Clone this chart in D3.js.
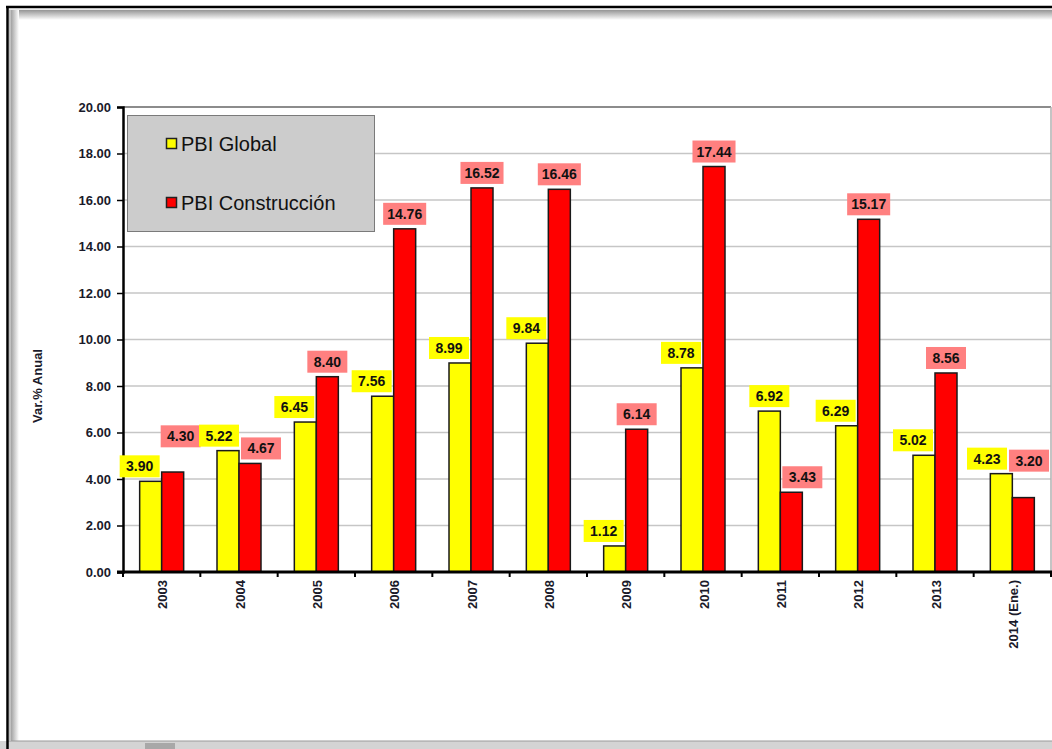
<!DOCTYPE html>
<html>
<head>
<meta charset="utf-8">
<script src="https://cdn.jsdelivr.net/npm/d3@7/dist/d3.min.js"></script>
<style>
  html, body { margin: 0; padding: 0; background: #fff; }
  svg { display: block; font-family: "Liberation Sans", Arial, sans-serif; }
</style>
</head>
<body>
<svg id="chart" width="1052" height="749"></svg>
<script>
// datos
const years = ["2003", "2004", "2005", "2006", "2007", "2008", "2009", "2010", "2011", "2012", "2013", "2014 (Ene.)"];
const pbiGlobal = [3.90, 5.22, 6.45, 7.56, 8.99, 9.84, 1.12, 8.78, 6.92, 6.29, 5.02, 4.23];
const pbiConstruccion = [4.30, 4.67, 8.40, 14.76, 16.52, 16.46, 6.14, 17.44, 3.43, 15.17, 8.56, 3.20];
const yTicks = [0, 2, 4, 6, 8, 10, 12, 14, 16, 18, 20];
const seriesNames = ["PBI Global", "PBI Construcción"];

const svg = d3.select("#chart");
const W = 1052, H = 749;

// ---------- marco de ventana ----------
const defs = svg.append("defs");
const gTop = defs.append("linearGradient").attr("id", "gTop")
  .attr("x1", "0").attr("y1", "0").attr("x2", "0").attr("y2", "1");
gTop.append("stop").attr("offset", "0%").attr("stop-color", "#8a8a8a");
gTop.append("stop").attr("offset", "100%").attr("stop-color", "#ffffff");
const gLeft = defs.append("linearGradient").attr("id", "gLeft")
  .attr("x1", "0").attr("y1", "0").attr("x2", "1").attr("y2", "0");
gLeft.append("stop").attr("offset", "0%").attr("stop-color", "#8a8a8a");
gLeft.append("stop").attr("offset", "100%").attr("stop-color", "#ffffff");

svg.append("rect").attr("x", 10).attr("y", 9).attr("width", W).attr("height", 11).attr("fill", "url(#gTop)");
svg.append("rect").attr("x", 9).attr("y", 9).attr("width", 10).attr("height", H).attr("fill", "url(#gLeft)");
svg.append("rect").attr("x", 0).attr("y", 741).attr("width", W).attr("height", 8).attr("fill", "#d4d4d4");
svg.append("line").attr("x1", 8).attr("x2", W).attr("y1", 741).attr("y2", 741).attr("stroke", "#9a9a9a");
svg.append("rect").attr("x", 145).attr("y", 743).attr("width", 30).attr("height", 6).attr("fill", "#a8a8a8");
svg.append("line").attr("x1", 6).attr("x2", W).attr("y1", 7).attr("y2", 7).attr("stroke", "#000").attr("stroke-width", 2.5);
svg.append("line").attr("x1", 7.5).attr("x2", 7.5).attr("y1", 6).attr("y2", H).attr("stroke", "#000").attr("stroke-width", 2.5);
svg.append("line").attr("x1", 9).attr("x2", W).attr("y1", 9.5).attr("y2", 9.5).attr("stroke", "#e8e8e8");
svg.append("line").attr("x1", 10).attr("x2", 10).attr("y1", 9).attr("y2", 741).attr("stroke", "#e8e8e8");

// ---------- escalas ----------
const plotL = 123, plotR = 1051, plotT = 107, plotB = 572;
const x = d3.scaleBand().domain(years).range([plotL, plotR]);
const y = d3.scaleLinear().domain([0, 20]).range([plotB, plotT]);
const barW = 22;

// grilla
svg.append("g").selectAll("line").data(yTicks.filter(d => d > 0)).join("line")
  .attr("x1", plotL).attr("x2", plotR)
  .attr("y1", d => y(d)).attr("y2", d => y(d))
  .attr("stroke", d => d === 20 ? "#8c8c8c" : "#c6c6c6")
  .attr("stroke-width", d => d === 20 ? 2 : 1.5);
svg.append("line").attr("x1", plotR).attr("x2", plotR).attr("y1", plotT).attr("y2", plotB)
  .attr("stroke", "#b0b0b0").attr("stroke-width", 1.5);

// eje Y
const yAxis = svg.append("g").attr("transform", `translate(${plotL},0)`)
  .call(d3.axisLeft(y).tickValues(yTicks).tickFormat(d3.format(".2f")).tickSize(6).tickPadding(6));
yAxis.select(".domain").attr("stroke", "#000").attr("stroke-width", 2.5);
yAxis.selectAll(".tick line").attr("stroke", "#000").attr("stroke-width", 1.5);
yAxis.selectAll(".tick text").attr("font-size", 13).attr("font-weight", "bold").attr("fill", "#1a1a2a")
  .attr("font-family", "'Liberation Sans', Arial, sans-serif");

svg.append("text")
  .attr("transform", "translate(42,386) rotate(-90)")
  .attr("text-anchor", "middle")
  .attr("font-size", 13).attr("font-weight", "bold").attr("fill", "#1a1a2a")
  .text("Var.% Anual");

// ---------- barras ----------
const series = [
  { name: seriesNames[0], values: pbiGlobal, fill: "#ffff00", label: "#ffff00", dx: -barW },
  { name: seriesNames[1], values: pbiConstruccion, fill: "#ff0000", label: "#ff8080", dx: 0 }
];

const bars = svg.append("g");
series.forEach(s => {
  bars.selectAll(null).data(s.values).join("rect")
    .attr("x", (d, i) => x(years[i]) + x.bandwidth() / 2 + s.dx)
    .attr("y", d => y(d))
    .attr("width", barW)
    .attr("height", d => y(0) - y(d))
    .attr("fill", s.fill)
    .attr("stroke", "#1a1a1a")
    .attr("stroke-width", 1.5);
});

// eje X
svg.append("line").attr("x1", plotL - 6).attr("x2", plotR + 2).attr("y1", plotB).attr("y2", plotB)
  .attr("stroke", "#000").attr("stroke-width", 3);
const bounds = years.map(d => x(d)).concat([plotR]);
svg.append("g").selectAll("line").data(bounds).join("line")
  .attr("x1", d => d).attr("x2", d => d)
  .attr("y1", plotB).attr("y2", plotB + 5)
  .attr("stroke", "#000").attr("stroke-width", 2);
svg.append("g").selectAll("text").data(years).join("text")
  .attr("transform", d => `translate(${x(d) + x.bandwidth() / 2 + 1},${plotB + 8}) rotate(-90)`)
  .attr("text-anchor", "end")
  .attr("dy", "0.35em")
  .attr("font-size", 13).attr("font-weight", "bold").attr("fill", "#1a1a2a")
  .text(d => d);

// ---------- etiquetas ----------
const labH = 22, pad = 4, gap = 4, minW = 40;
const labelLayer = svg.append("g");

years.forEach((yr, i) => {
  const cx = x(yr) + x.bandwidth() / 2;
  const left = i === 0 ? plotL + 2 : x(yr) - 14;
  const boxes = series.map((s, k) => {
    const v = s.values[i];
    const t = labelLayer.append("text")
      .attr("font-size", 14).attr("font-weight", "bold").attr("fill", "#111")
      .attr("text-anchor", "middle").attr("dy", "0.36em")
      .text(d3.format(".2f")(v));
    const w = Math.max(t.node().getComputedTextLength() + 2 * pad, minW);
    const bx0 = cx + s.dx, bx1 = bx0 + barW;
    return { t, w, top: y(v), bx0, bx1, c: (bx0 + bx1) / 2, bottom: y(v) - gap, s };
  });

  // evitar que la etiqueta tape la barra vecina
  boxes.forEach((b, k) => {
    const o = boxes[1 - k];
    if (o.top < b.bottom) {
      if (k === 1 && b.c - b.w / 2 < o.bx1) b.c = o.bx1 + 2 + b.w / 2;
      if (k === 0 && b.c + b.w / 2 > o.bx0) b.c = o.bx0 - 2 - b.w / 2;
    }
    if (b.c + b.w / 2 > plotR - 2) {
      b.c = plotR - 2 - b.w / 2;
      if (k === 1 && b.c - b.w / 2 < o.bx1 && o.top < b.bottom) b.bottom = o.top - 2;
    }
  });

  // choque entre etiquetas
  const [a, b] = boxes;
  const hOver = (a.c + a.w / 2) - (b.c - b.w / 2);
  const vOver = !(a.bottom <= b.bottom - labH || b.bottom <= a.bottom - labH);
  if (hOver > 0 && vOver) {
    if (a.c - a.w / 2 - hOver - 2 >= left) {
      a.c -= hOver + 2;
    } else if (a.bottom < b.bottom) {
      a.bottom = b.bottom - labH - 2;
    } else {
      b.bottom = a.bottom - labH - 8;
      b.c += 8;
    }
  }

  boxes.forEach(bx => {
    labelLayer.insert("rect", "text")
      .attr("x", bx.c - bx.w / 2).attr("y", bx.bottom - labH)
      .attr("width", bx.w).attr("height", labH)
      .attr("fill", bx.s.label);
    bx.t.attr("x", bx.c).attr("y", bx.bottom - labH / 2).raise();
  });
});

// ---------- leyenda ----------
const leg = svg.append("g");
leg.append("rect").attr("x", 127.5).attr("y", 115.5).attr("width", 247).attr("height", 116)
  .attr("fill", "#cccccc").attr("stroke", "#7a7a7a").attr("stroke-width", 1);
series.forEach((s, k) => {
  const cy = 144 + k * 59;
  leg.append("rect").attr("x", 166.5).attr("y", cy - 5.5).attr("width", 10).attr("height", 10)
    .attr("fill", s.fill).attr("stroke", "#222").attr("stroke-width", 1.5);
  leg.append("text").attr("x", 181).attr("y", cy + 7)
    .attr("font-size", 20).attr("fill", "#111")
    .text(s.name);
});
</script>
</body>
</html>
